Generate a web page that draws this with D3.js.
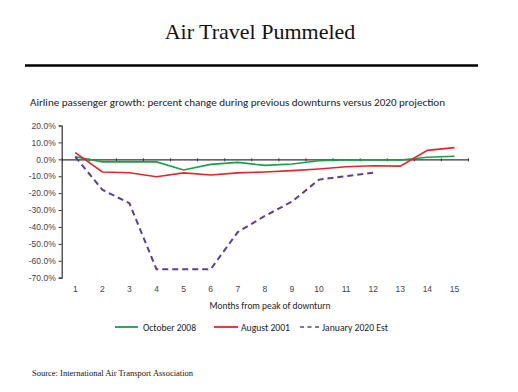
<!DOCTYPE html>
<html><head><meta charset="utf-8">
<script src="https://cdn.jsdelivr.net/npm/d3@7"></script>
<style>body{margin:0;background:#fff}svg{display:block}</style>
</head><body>
<svg id="c" width="518" height="392"></svg>
<script>
const months = [1,2,3,4,5,6,7,8,9,10,11,12,13,14,15];
const oct2008 = [1.5,-1.5,-1.5,-1.5,-6.3,-3,-1.8,-3.6,-2.8,-0.8,-0.4,-0.3,-0.4,1.2,1.8];
const aug2001 = [4,-7.5,-7.9,-10.3,-8,-9.3,-8,-7.5,-6.7,-5.7,-4.4,-3.8,-4,5.3,6.9];
const jan2020 = [1.5,-18,-26,-65,-65,-65,-43,-33.5,-25,-12,-10,-8];
const yTicks = [20,10,0,-10,-20,-30,-40,-50,-60,-70];
const seriesNames = ["October 2008","August 2001","January 2020 Est"];
const colors = ["#1a9e4a","#e3262b","#5b3f92"];

const svg = d3.select("#c");
svg.append("text").attr("x",260).attr("y",39).attr("text-anchor","middle")
  .attr("font-family","Liberation Serif, Times New Roman, serif").attr("font-size",22).attr("fill","#111")
  .text("Air Travel Pummeled");
svg.append("line").attr("x1",25).attr("x2",478).attr("y1",65.5).attr("y2",65.5).attr("stroke","#000").attr("stroke-width",2.5);
svg.append("text").attr("x",30).attr("y",106)
  .attr("font-family","Carlito, Open Sans, Liberation Sans, sans-serif").attr("font-size",10.5).attr("fill","#222")
  .attr("textLength",415).attr("lengthAdjust","spacingAndGlyphs")
  .text("Airline passenger growth: percent change during previous downturns versus 2020 projection");

const x = d3.scaleLinear().domain([0.5,15.5]).range([61.7,468]);
const y = d3.scaleLinear().domain([-70,20]).range([277.7,125.5]);

// y axis
const ya = svg.append("g").attr("transform","translate(61.7,0)")
  .call(d3.axisLeft(y).tickValues(yTicks).tickSize(3).tickFormat(d=>d.toFixed(1)+"%"));
ya.select(".domain").attr("stroke","#333").attr("stroke-width",1.2);
ya.selectAll(".tick line").attr("stroke","#333");
ya.selectAll(".tick text").attr("font-family","Liberation Sans, Arial, sans-serif").attr("font-size",8.5).attr("fill","#444").attr("x",-6);

// x axis along zero line with ticks at boundaries
const xa = svg.append("g").attr("transform",`translate(0,${y(0)})`)
  .call(d3.axisBottom(x).tickValues(d3.range(0.5,15.6,1)).tickSize(2).tickSizeOuter(0).tickFormat(""));
xa.select(".domain").attr("stroke","#333").attr("stroke-width",1.2);
xa.selectAll(".tick line").attr("stroke","#333").attr("y1",-1);
// x labels at bottom
svg.append("g").selectAll("text").data(months).join("text")
  .attr("x",d=>x(d)).attr("y",292).attr("text-anchor","middle")
  .attr("font-family","Liberation Sans, Arial, sans-serif").attr("font-size",8.5).attr("fill","#444")
  .text(d=>d);
svg.append("text").attr("x",270).attr("y",309).attr("text-anchor","middle")
  .attr("font-family","Carlito, Open Sans, Liberation Sans, sans-serif").attr("font-size",9.5).attr("fill","#222")
  .attr("textLength",121).attr("lengthAdjust","spacingAndGlyphs")
  .text("Months from peak of downturn");

const line = d3.line().x((d,i)=>x(months[i])).y(d=>y(d));
const data = [oct2008,aug2001,jan2020];
data.forEach((s,i)=>{
  svg.append("path").datum(s).attr("d",line).attr("fill","none")
    .attr("stroke",colors[i]).attr("stroke-width",i===2?2:1.6)
    .attr("stroke-dasharray",i===2?"6,4":null);
});

// legend
const leg = [{x1:115,x2:138,tx:143,w:53},{x1:214,x2:238,tx:241,w:49},{x1:300,x2:322,tx:322,w:66}];
leg.forEach((l,i)=>{
  svg.append("line").attr("x1",l.x1).attr("x2",l.x2).attr("y1",327).attr("y2",327)
    .attr("stroke",colors[i]).attr("stroke-width",i===2?1.5:1.8).attr("stroke-dasharray",i===2?"4,3.5":null);
  svg.append("text").attr("x",l.tx).attr("y",330.5)
    .attr("font-family","Carlito, Open Sans, Liberation Sans, sans-serif").attr("font-size",10).attr("fill","#222")
    .attr("textLength",l.w).attr("lengthAdjust","spacingAndGlyphs")
    .text(seriesNames[i]);
});

svg.append("text").attr("x",32).attr("y",376)
  .attr("font-family","Liberation Serif, Times New Roman, serif").attr("font-size",8.5).attr("fill","#111")
  .text("Source: International Air Transport Association");
</script>
</body></html>
